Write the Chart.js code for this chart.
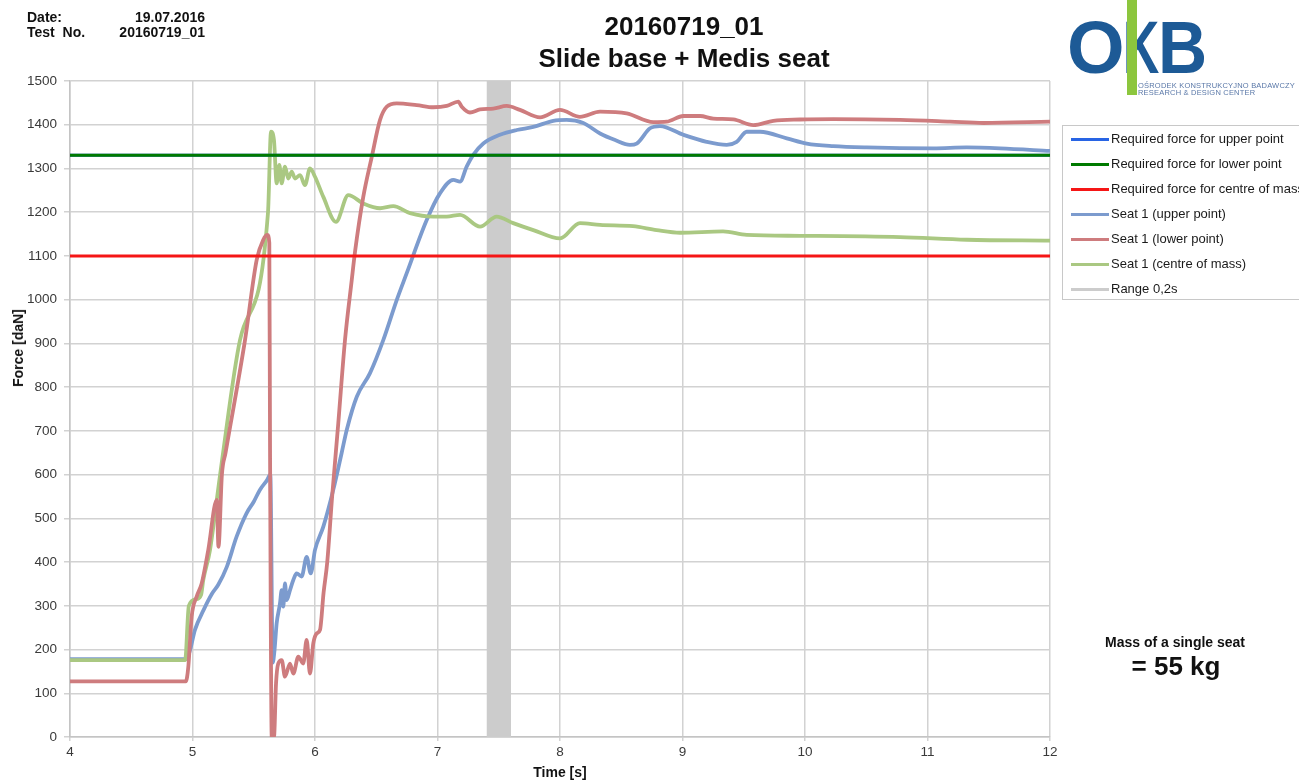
<!DOCTYPE html>
<html>
<head>
<meta charset="utf-8">
<title>20160719_01 Slide base + Medis seat</title>
<script src="https://cdn.jsdelivr.net/npm/chart.js@4.4.1/dist/chart.umd.min.js"></script>
<style>
  html, body { margin: 0; padding: 0; background: #fff; overflow: hidden; }
  body { width: 1299px; height: 782px; position: relative; font-family: "Liberation Sans", Arial, sans-serif; color: #111; }
  #chart { position: absolute; left: 0; top: 0; }
  .txt { position: absolute; white-space: nowrap; font-weight: bold; }
  .hdr { font-size: 14px; line-height: 14px; }
  .title { left: 434px; width: 500px; text-align: center; font-size: 26px; line-height: 30px; }
  .logo { position: absolute; font-weight: bold; font-size: 74px; line-height: 74px; color: #1d5a96; font-family: "Liberation Sans", Arial, sans-serif; }
  .logo-sub { position: absolute; left: 1138px; font-size: 7.5px; line-height: 7px; color: #5a78a8; white-space: nowrap; letter-spacing: 0.2px; }
  #legend { position: absolute; left: 1062px; top: 125px; width: 260px; height: 175px; border: 1px solid #c8c8c8; box-sizing: border-box; background: #fff; }
  .lg-row { position: absolute; left: 8px; height: 16px; font-size: 13px; line-height: 16px; color: #1a1a1a; white-space: nowrap; }
  .lg-swatch { position: absolute; left: 0; top: 7px; width: 38px; height: 3px; }
  .lg-text { position: absolute; left: 40px; top: 0; }
  #ytitle { position: absolute; left: 18px; top: 348px; width: 0; height: 0; }
  #ytitle span { position: absolute; left: 0; top: 0; transform: translate(-50%, -50%) rotate(-90deg); font-weight: bold; font-size: 14px; line-height: 16px; white-space: nowrap; color: #111; }
</style>
</head>
<body>
<canvas id="chart" width="1299" height="782"></canvas>

<div class="txt hdr" style="left:27px; top:10px;">Date:</div>
<div class="txt hdr" style="left:105px; top:10px; width:100px; text-align:right;">19.07.2016</div>
<div class="txt hdr" style="left:27px; top:25px;">Test&nbsp; No.</div>
<div class="txt hdr" style="left:105px; top:25px; width:100px; text-align:right;">20160719_01</div>

<div class="txt title" style="top:11px;">20160719_01</div>
<div class="txt title" style="top:43px;">Slide base + Medis seat</div>

<div class="logo" style="left:1067px; top:11px;">O</div>
<div class="logo" style="left:1123px; top:11px; transform: scaleX(0.68); transform-origin: left top;">K</div>
<div class="logo" style="left:1158px; top:11px; transform: scaleX(0.92); transform-origin: left top;">B</div>
<div style="position:absolute; left:1127px; top:0; width:10px; height:95px; background:#8cc63e;"></div>
<div class="logo-sub" style="top:82px;">OŚRODEK KONSTRUKCYJNO BADAWCZY</div>
<div class="logo-sub" style="top:89px;">RESEARCH &amp; DESIGN CENTER</div>

<div id="legend"></div>
<div id="ytitle"><span>Force [daN]</span></div>

<div class="txt" style="left:1070px; width:210px; text-align:center; top:634px; font-size:14px; line-height:16px;">Mass of a single seat</div>
<div class="txt" style="left:1076px; width:200px; text-align:center; top:651px; font-size:26px; line-height:30px;">= 55 kg</div>

<script>
// Time axis [s] and force axis [daN] ticks
const timeTicks = [4, 5, 6, 7, 8, 9, 10, 11, 12];
const forceTicks = [0, 100, 200, 300, 400, 500, 600, 700, 800, 900, 1000, 1100, 1200, 1300, 1400, 1500];

// Required force thresholds [daN]
const requiredUpper = 1330;
const requiredLower = 1330;
const requiredCentre = 1100;

// Evaluation window [s]
const rangeStart = 7.4;
const rangeEnd = 7.6;

// Seat 1 (upper point)
const upperT = [4.0, 4.95, 4.98, 5.02, 5.09, 5.16, 5.21, 5.28, 5.36, 5.44, 5.5, 5.55, 5.61, 5.635, 5.655, 5.67, 5.687, 5.714, 5.728, 5.741, 5.755, 5.769, 5.796, 5.823, 5.85, 5.891, 5.932, 5.965, 6.0, 6.068, 6.149, 6.218, 6.259, 6.341, 6.449, 6.558, 6.667, 6.748, 6.912, 7.02, 7.129, 7.184, 7.238, 7.292, 7.374, 7.51, 7.647, 7.782, 7.945, 8.054, 8.19, 8.327, 8.45, 8.571, 8.626, 8.735, 8.816, 9.007, 9.197, 9.361, 9.442, 9.524, 9.633, 9.851, 10.014, 10.231, 10.503, 11.048, 11.32, 11.592, 12.0];
const upperF = [178, 178, 199, 245, 290, 328, 348, 389, 458, 511, 538, 565, 588, 600, 170, 200, 260, 305, 336, 298, 351, 313, 336, 359, 374, 367, 412, 374, 428, 481, 565, 650, 702, 778, 832, 908, 999, 1060, 1182, 1243, 1274, 1270, 1304, 1331, 1357, 1377, 1388, 1395, 1409, 1411, 1404, 1380, 1365, 1354, 1357, 1392, 1397, 1377, 1361, 1354, 1361, 1384, 1384, 1369, 1357, 1351, 1348, 1346, 1348, 1346, 1340];

// Seat 1 (lower point)
const lowerT = [4.0, 4.945, 4.966, 4.993, 5.034, 5.075, 5.129, 5.198, 5.212, 5.24, 5.27, 5.429, 5.524, 5.578, 5.611, 5.627, 5.633, 5.647, 5.665, 5.682, 5.7, 5.728, 5.755, 5.796, 5.823, 5.864, 5.904, 5.932, 5.959, 5.986, 6.014, 6.041, 6.07, 6.1, 6.14, 6.19, 6.245, 6.3, 6.327, 6.394, 6.463, 6.531, 6.585, 6.667, 6.83, 6.966, 7.075, 7.17, 7.198, 7.265, 7.347, 7.456, 7.565, 7.673, 7.837, 8.0, 8.163, 8.327, 8.544, 8.762, 8.871, 9.007, 9.143, 9.251, 9.414, 9.578, 9.741, 9.959, 10.231, 10.776, 11.184, 11.456, 12.0];
const lowerF = [127, 127, 161, 275, 321, 351, 428, 542, 435, 600, 650, 908, 1091, 1137, 1148, 1130, 656, 0, 0, 123, 168, 176, 138, 168, 145, 184, 168, 222, 145, 214, 237, 245, 330, 400, 550, 717, 908, 1045, 1110, 1235, 1326, 1411, 1441, 1449, 1445, 1440, 1443, 1453, 1441, 1428, 1435, 1437, 1443, 1434, 1417, 1434, 1418, 1430, 1426, 1406, 1407, 1420, 1420, 1414, 1412, 1399, 1409, 1412, 1413, 1411, 1407, 1404, 1407];

// Seat 1 (centre of mass)
const centreT = [4.0, 4.94, 4.97, 5.03, 5.07, 5.088, 5.143, 5.198, 5.238, 5.388, 5.616, 5.641, 5.665, 5.687, 5.709, 5.728, 5.755, 5.782, 5.81, 5.837, 5.878, 5.918, 5.959, 6.0, 6.068, 6.171, 6.272, 6.394, 6.531, 6.639, 6.776, 6.966, 7.075, 7.184, 7.347, 7.483, 7.618, 7.782, 8.0, 8.163, 8.327, 8.596, 8.789, 8.98, 9.331, 9.524, 9.959, 10.776, 11.32, 12.0];
const centreF = [176, 176, 300, 315, 325, 359, 428, 542, 626, 908, 1198, 1384, 1365, 1266, 1308, 1266, 1304, 1277, 1293, 1277, 1285, 1262, 1300, 1281, 1235, 1178, 1239, 1220, 1209, 1214, 1198, 1190, 1190, 1194, 1167, 1190, 1175, 1159, 1140, 1175, 1171, 1168, 1159, 1153, 1156, 1148, 1146, 1143, 1137, 1135];

const toPoints = (ts, fs) => ts.map((t, i) => ({ x: t, y: fs[i] }));
const tMin = timeTicks[0];
const tMax = timeTicks[timeTicks.length - 1];
const fMax = forceTicks[forceTicks.length - 1];
const flat = (v) => [{ x: tMin, y: v }, { x: tMax, y: v }];

const seatStyle = {
  pointRadius: 0,
  borderWidth: 3.8,
  cubicInterpolationMode: 'monotone',
  fill: false
};
const reqStyle = { pointRadius: 0, borderWidth: 3, tension: 0, fill: false };

const datasets = [
  Object.assign({ label: 'Required force for upper point', data: flat(requiredUpper), borderColor: 'rgb(40,100,228)', order: 1 }, reqStyle),
  Object.assign({ label: 'Required force for lower point', data: flat(requiredLower), borderColor: 'rgb(0,122,0)', order: 0 }, reqStyle),
  Object.assign({ label: 'Required force for centre of mass', data: flat(requiredCentre), borderColor: 'rgb(245,22,22)', order: 0 }, reqStyle),
  Object.assign({ label: 'Seat 1 (upper point)', data: toPoints(upperT, upperF), borderColor: 'rgb(124,155,206)', order: 4 }, seatStyle),
  Object.assign({ label: 'Seat 1 (lower point)', data: toPoints(lowerT, lowerF), borderColor: 'rgb(206,124,126)', order: 2 }, seatStyle),
  Object.assign({ label: 'Seat 1 (centre of mass)', data: toPoints(centreT, centreF), borderColor: 'rgb(170,200,130)', order: 3 }, seatStyle),
  {
    label: 'Range 0,2s',
    data: [{ x: rangeStart, y: fMax }, { x: rangeEnd, y: fMax }],
    borderColor: 'rgb(204,204,204)',
    backgroundColor: 'rgb(204,204,204)',
    borderWidth: 0,
    pointRadius: 0,
    fill: 'origin',
    order: 10
  }
];

const tickFont = { family: '"Liberation Sans", Arial, sans-serif', size: 13.5 };
const titleFont = { family: '"Liberation Sans", Arial, sans-serif', size: 14, weight: 'bold' };

const chart = new Chart(document.getElementById('chart'), {
  type: 'line',
  data: { datasets },
  options: {
    responsive: false,
    animation: false,
    events: [],
    layout: { padding: { left: 0, top: 81, right: 249, bottom: 0 } },
    plugins: { legend: { display: false }, tooltip: { enabled: false } },
    scales: {
      x: {
        type: 'linear',
        min: tMin,
        max: tMax,
        afterBuildTicks: (s) => { s.ticks = timeTicks.map(v => ({ value: v })); },
        afterFit: (s) => { s.height = 45; },
        ticks: { font: tickFont, color: '#3a3a3a', padding: 3, maxRotation: 0, callback: (v) => String(v) },
        grid: { color: '#d2d2d2', lineWidth: 1.5, tickLength: 4 },
        border: { color: '#c4c4c4', width: 1.5 },
        title: { display: true, text: 'Time [s]', font: titleFont, color: '#111', padding: { top: 2, bottom: 0 } }
      },
      y: {
        type: 'linear',
        min: forceTicks[0],
        max: fMax,
        afterBuildTicks: (s) => { s.ticks = forceTicks.map(v => ({ value: v })); },
        afterFit: (s) => { s.width = 70; },
        ticks: { font: tickFont, color: '#3a3a3a', padding: 7, callback: (v) => String(v) },
        grid: { color: '#d2d2d2', lineWidth: 1.5, tickLength: 6 },
        border: { color: '#c4c4c4', width: 1.5 },
        title: { display: false }
      }
    }
  }
});

// Legend box built from the chart's own datasets
const legendEl = document.getElementById('legend');
chart.data.datasets.forEach((ds, i) => {
  const row = document.createElement('div');
  row.className = 'lg-row';
  row.style.top = (5 + i * 25) + 'px';
  const sw = document.createElement('div');
  sw.className = 'lg-swatch';
  sw.style.background = ds.borderColor;
  const tx = document.createElement('div');
  tx.className = 'lg-text';
  tx.textContent = ds.label;
  row.appendChild(sw);
  row.appendChild(tx);
  legendEl.appendChild(row);
});
</script>
</body>
</html>
